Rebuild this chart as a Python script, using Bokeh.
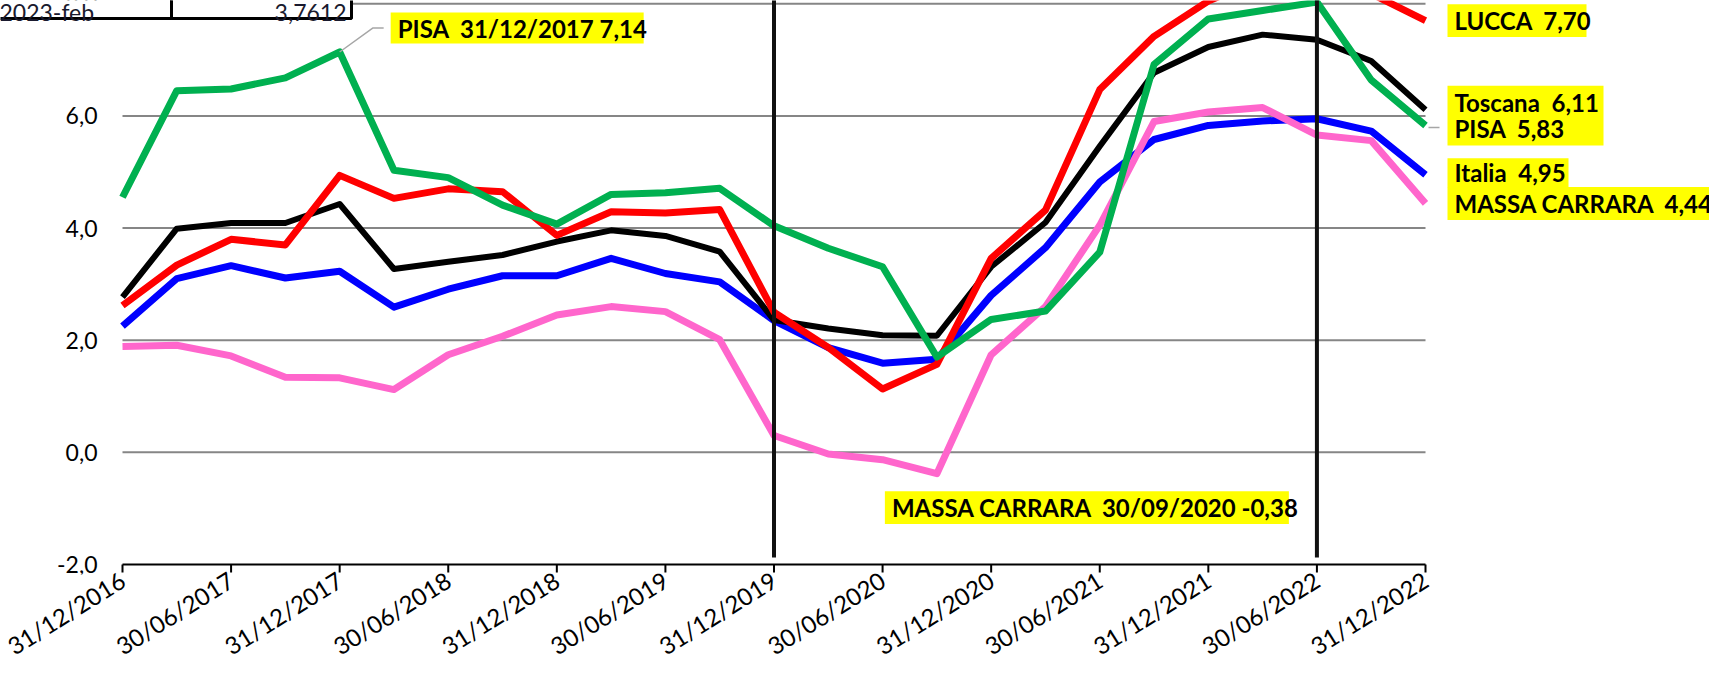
import math
from bokeh.plotting import figure
from bokeh.models import Range1d, FixedTicker
from bokeh.embed import file_html
from bokeh.resources import INLINE
from bokeh.core.properties import value

# ---------------- data ----------------
quarters = ["31/12/2016", "31/03/2017", "30/06/2017", "30/09/2017", "31/12/2017",
            "31/03/2018", "30/06/2018", "30/09/2018", "31/12/2018", "31/03/2019",
            "30/06/2019", "30/09/2019", "31/12/2019", "31/03/2020", "30/06/2020",
            "30/09/2020", "31/12/2020", "31/03/2021", "30/06/2021", "30/09/2021",
            "31/12/2021", "31/03/2022", "30/06/2022", "30/09/2022", "31/12/2022"]

italia  = [2.25, 3.10, 3.33, 3.11, 3.23, 2.59, 2.91, 3.15, 3.15, 3.46, 3.19, 3.04, 2.35,
           1.87, 1.59, 1.66, 2.80, 3.65, 4.82, 5.58, 5.83, 5.91, 5.95, 5.73, 4.95]
toscana = [2.77, 3.99, 4.09, 4.09, 4.43, 3.27, 3.40, 3.52, 3.76, 3.96, 3.86, 3.58, 2.36,
           2.21, 2.09, 2.08, 3.31, 4.10, 5.46, 6.77, 7.23, 7.45, 7.36, 6.98, 6.11]
lucca   = [2.62, 3.34, 3.80, 3.70, 4.94, 4.53, 4.70, 4.65, 3.87, 4.29, 4.27, 4.33, 2.50,
           1.87, 1.13, 1.57, 3.46, 4.32, 6.47, 7.42, 8.05, 8.45, 8.55, 8.18, 7.70]
pisa    = [4.55, 6.45, 6.48, 6.68, 7.14, 5.03, 4.90, 4.41, 4.07, 4.60, 4.63, 4.71, 4.04,
           3.64, 3.31, 1.70, 2.37, 2.52, 3.57, 6.92, 7.73, 7.88, 8.03, 6.64, 5.83]
massa   = [1.89, 1.91, 1.72, 1.34, 1.33, 1.12, 1.74, 2.07, 2.45, 2.60, 2.51, 2.01, 0.30,
           -0.03, -0.13, -0.38, 1.74, 2.60, 4.05, 5.90, 6.07, 6.15, 5.66, 5.56, 4.44]

y_ticks = [-2, 0, 2, 4, 6, 8]
event_dates = ["31/12/2019", "30/06/2022"]
pisa_note_date = "31/12/2017"
massa_note_date = "30/09/2020"
table_row = ["2023-feb", "3,7612"]


def fmt(v, nd=2):
    return f"{v:.{nd}f}".replace(".", ",")


def keep_spaces(s):
    return s.replace("  ", " \u00a0")


# ---------------- layout (page pixels, figure sits at page origin) ----------------
W, H = 1709, 675
PL, PR = 122, 1425        # page x of first / last quarter
PY_LO, PY_HI = 565, 3.3   # page y of y=-2 and y=8
FB = 575                  # page y of the frame bottom (x-axis labels panel below)
N = len(quarters)
pxx = (PR - PL) / (N - 1)
pxy = (PY_LO - PY_HI) / (y_ticks[-1] - y_ticks[0])
ymin = y_ticks[0]

x_range = Range1d((0 - PL) / pxx, (W - PL) / pxx)
y_range = Range1d(ymin - (FB - PY_LO) / pxy, ymin + PY_LO / pxy)

p = figure(width=W, height=H, output_backend="svg", toolbar_location=None,
           x_range=x_range, y_range=y_range,
           x_axis_location="below", y_axis_location=None,
           min_border_left=0, min_border_right=0, min_border_top=0,
           min_border_bottom=H - FB)
p.outline_line_color = None
p.grid.visible = False
p.background_fill_color = "white"
p.border_fill_color = "white"


def ox(px):
    return px / pxx


def oy(px):
    return px / pxy


FONT = value("Lato")
xs = list(range(N))
x0, x1 = xs[0], xs[-1]
xt = list(range(0, N, 2))

# horizontal gridlines
grid_y = [t for t in y_ticks if t != ymin]
p.segment(x0=[x0] * len(grid_y), y0=grid_y, x1=[x1] * len(grid_y), y1=grid_y,
          line_color="#868686", line_width=2)

# x axis line and tick marks at y = -2
p.segment(x0=[x0], y0=[ymin], x1=[x1], y1=[ymin], line_color="black", line_width=2)
p.segment(x0=xt, y0=[ymin] * len(xt), x1=xt, y1=[ymin - oy(8)] * len(xt),
          line_color="black", line_width=2)

# x tick labels from the axis in the panel below the frame
xa = p.xaxis[0]
xa.ticker = FixedTicker(ticks=xt)
xa.major_label_overrides = {i: quarters[i] for i in xt}
xa.major_label_orientation = math.radians(32)
xa.axis_line_color = None
xa.major_tick_line_color = None
xa.major_tick_out = 0
xa.major_tick_in = 0
xa.minor_tick_line_color = None
xa.major_label_standoff = 3
xa.major_label_text_font = "Lato"
xa.major_label_text_font_size = "24px"
xa.major_label_text_color = "black"

# y tick labels
p.text(x=[x0 - ox(PL - 97)] * len(y_ticks), y=y_ticks, text=[fmt(t, 1) for t in y_ticks],
       text_align="right", text_baseline="middle",
       text_font=FONT, text_font_size="23px", text_color="black")

# series (drawing order bottom -> top)
series = [(italia, "#0000FF", 7), (toscana, "#000000", 6), (lucca, "#FF0000", 7),
          (massa, "#FF66CC", 7), (pisa, "#00B050", 7)]
for ys, col, lw in series:
    p.line(xs, ys, line_color=col, line_width=lw, line_join="round")

# vertical event lines
ev = [quarters.index(d) for d in event_dates]
p.segment(x0=ev, y0=[ymin + oy(7)] * len(ev), x1=ev, y1=[y_range.end + 1] * len(ev),
          line_color="#111111", line_width=4)

# leader lines
i_p = quarters.index(pisa_note_date)
p.line([i_p, i_p + ox(33), i_p + ox(44)],
       [pisa[i_p], pisa[i_p] + oy(24), pisa[i_p] + oy(24)],
       line_color="#A6A6A6", line_width=1.5)
p.line([x1 + ox(3), x1 + ox(14)], [pisa[-1] - oy(2), pisa[-1] - oy(2)],
       line_color="#A6A6A6", line_width=1.5)

# fragment of the table at the top-left
ty_bot = ymin + oy(PY_LO - 18)
ty_top = y_range.end + oy(20)
p.quad(left=[x0 - ox(PL + 20), x0 - ox(PL - 171)], right=[x0 - ox(PL - 171), x0 - ox(PL - 351)],
       bottom=[ty_bot] * 2, top=[ty_top] * 2,
       fill_color="white", line_color="black", line_width=3)
p.text(x=[x0 - ox(PL + 1), x0 - ox(PL - 346)], y=[ymin + oy(PY_LO - 12)] * 2, text=table_row,
       text_align=["left", "right"], text_baseline="alphabetic",
       text_font=FONT, text_font_size="23px", text_color="#1a1a2e")

# yellow callouts: (lines, anchor x, anchor y, box-left dx px, box-centre dy px, box w, box h)
i_m = quarters.index(massa_note_date)
tos_pisa_mid = (toscana[-1] + pisa[-1]) / 2
callouts = [
    ([f"PISA  {quarters[i_p]} {fmt(pisa[i_p])}"], i_p, pisa[i_p], 51, 24, 253, 31),
    ([f"MASSA CARRARA  {quarters[i_m]} {fmt(massa[i_m])}"], i_m, massa[i_m], -52, -34, 404, 33),
    ([f"LUCCA  {fmt(lucca[-1])}"], x1, lucca[-1], 22, 0, 139, 33),
    ([f"Toscana  {fmt(toscana[-1])}", f"PISA  {fmt(pisa[-1])}"], x1, tos_pisa_mid, 22, 2, 156, 60),
    ([f"Italia  {fmt(italia[-1])}"], x1, italia[-1], 22, 2, 121, 29),
    ([f"MASSA CARRARA  {fmt(massa[-1])}"], x1, massa[-1], 22, 0, 262, 33),
]
LINE_H = 26
for lines, ax, ay, dxp, dyp, bw, bh in callouts:
    cy = ay + oy(dyp)
    p.quad(left=[ax + ox(dxp)], right=[ax + ox(dxp + bw)],
           bottom=[cy - oy(bh / 2)], top=[cy + oy(bh / 2)],
           fill_color="#FFFF00", line_color=None)
    n = len(lines)
    ly = [cy + oy((n - 1) / 2 * LINE_H - k * LINE_H) for k in range(n)]
    p.text(x=[ax + ox(dxp + 7)] * n, y=ly, text=[keep_spaces(t) for t in lines],
           text_align="left", text_baseline="middle",
           text_font=FONT, text_font_style="bold", text_font_size="24px",
           text_color="black")

open("out.html", "w").write(file_html(p, INLINE))
